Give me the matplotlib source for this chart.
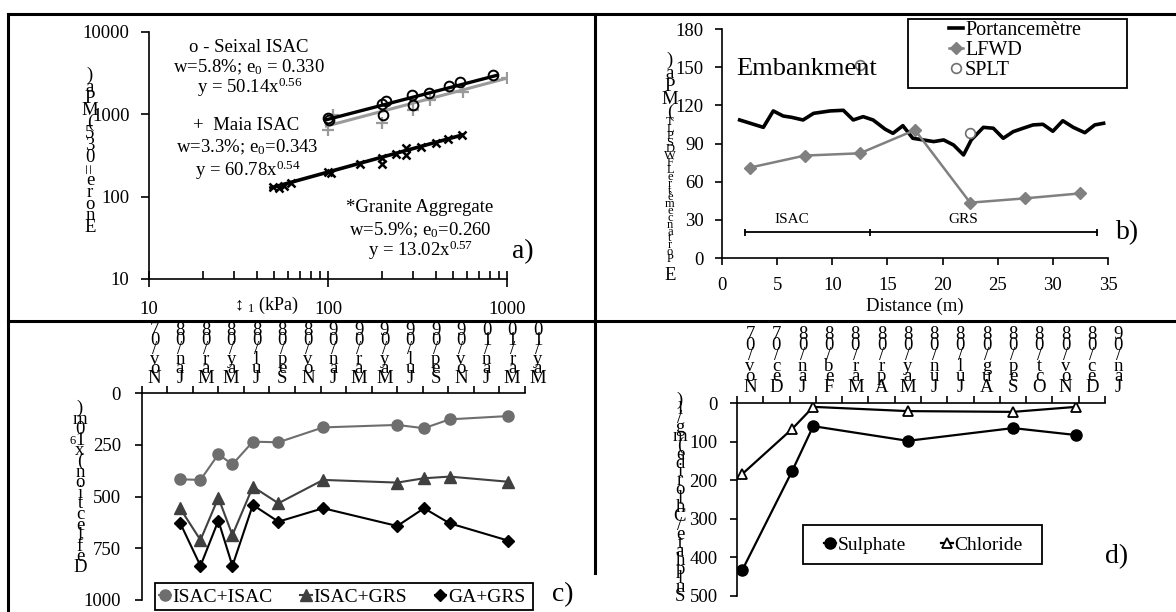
import numpy as np
import matplotlib
matplotlib.use("Agg")
import matplotlib.pyplot as plt
import matplotlib.transforms as mtransforms
from matplotlib.lines import Line2D
from matplotlib.patches import Rectangle
from matplotlib.ticker import LogLocator, NullLocator, NullFormatter

plt.rcParams['font.family'] = ['Liberation Serif', 'DejaVu Serif']
plt.rcParams['font.size'] = 13.5

# ---------------- data ----------------
# a) modulus vs stress, log-log
seixal_x = [100, 101, 200, 211, 202, 294, 297, 368, 476, 546, 839]
seixal_y = [897, 860, 1337, 1467, 984, 1721, 1300, 1836, 2213, 2500, 3013]
maia_x = [100, 107, 200, 300, 372, 566, 996]
maia_y = [646, 984, 794, 1130, 1496, 1888, 2750]
granite_x = [49, 53, 57, 62, 100, 104, 150, 200, 200, 240, 273, 273, 330, 400, 470, 560]
granite_y = [131, 129, 135, 146, 201, 195, 252, 293, 249, 333, 321, 387, 400, 452, 500, 562]
# trend line end points
seixal_fit_x = [98, 880]
seixal_fit_y = [860, 2980]
maia_fit_x = [98, 1000]
maia_fit_y = [720, 2750]
granite_fit_x = [48, 560]
granite_fit_y = [128, 560]

# b) embankment stiffness along the section
port_dist = [1.6, 3.75, 4.65, 5.55, 6.3, 7.35, 8.3, 9.8, 11.0, 11.9, 12.8, 13.7, 14.8, 15.5,
             16.4, 17.3, 18.25, 19.2, 20.1, 21.0, 21.9, 22.6, 23.7, 24.6, 25.5, 26.4, 27.3,
             28.2, 29.1, 30.0, 30.9, 31.85, 32.9, 33.8, 34.6]
port_val = [108.5, 102.7, 115.6, 111.6, 110.6, 108.5, 113.7, 115.6, 116.1, 108.5, 111.1, 108.5,
            101.2, 98, 104, 94.1, 92.8, 91.5, 92.8, 88.8, 81, 92.8, 102.7, 102, 94.1, 99.3, 102,
            104.6, 105.1, 99.6, 107.9, 102.7, 98.5, 104.6, 105.9]
lfwd_dist = [2.5, 7.5, 12.5, 17.5, 22.5, 27.5, 32.5]
lfwd_val = [71, 80.5, 82.3, 100.6, 43.5, 46.9, 50.8]
splt_dist = [12.5, 22.5]
splt_val = [152, 98]
section_edges = [2.1, 13.4, 34.0]
section_names = ['ISAC', 'GRS']
section_label_x = [6.3, 21.9]

# c) deflections, months counted from Nov 2007
c_tick_labels = ['Nov/07', 'Jan/08', 'Mar/08', 'May/08', 'Jul/08', 'Sep/08', 'Nov/08', 'Jan/09',
                 'Mar/09', 'May/09', 'Jul/09', 'Sep/09', 'Nov/09', 'Jan/10', 'Mar/10', 'May/10']
c_month = [3.0, 4.6, 6.0, 7.1, 8.7, 10.7, 14.2, 20.0, 22.1, 24.1, 28.7]
isac_isac = [416, 419, 295, 344, 234, 237, 165, 153, 169, 126, 110]
isac_grs = [556, 710, 505, 686, 452, 532, 419, 432, 411, 403, 428]
ga_grs = [626, 835, 616, 835, 540, 621, 556, 642, 556, 629, 713]

# d) sulphate / chloride, months counted from Nov 2007
d_tick_labels = ['Nov/07', 'Dec/07', 'Jan/08', 'Feb/08', 'Mar/08', 'Apr/08', 'May/08', 'Jun/08',
                 'Jul/08', 'Aug/08', 'Sep/08', 'Oct/08', 'Nov/08', 'Dec/08', 'Jan/09']
d_month = [0.2, 2.1, 2.9, 6.5, 10.5, 12.9]
sulphate = [433, 176, 60, 98, 65, 83]
chloride = [184, 67, 10, 21, 23, 10]

# ---------------- figure helpers ----------------
W, H = 1176, 612
fig = plt.figure(figsize=(W / 100, H / 100), dpi=100)


def fx(px):
    return px / W


def fy(py):
    return 1 - py / H


def box(l, t, r, b):
    return [fx(l), fy(b), (r - l) / W, (b - t) / H]


def ftext(px, py, s, **kw):
    return fig.text(fx(px), fy(py), s, **kw)


# rotated labels came out of the source as upright letters piled bottom-up
def stack_text(px, py, s, size, step):
    for i, ch in enumerate(s):
        if ch == '=':
            fig.text(fx(px), fy(py - i * step), ch, ha='center', va='bottom',
                     fontsize=size, rotation=90)
        else:
            fig.text(fx(px), fy(py - i * step), ch, ha='center', va='baseline', fontsize=size)


def stack_ticklabels(ax, positions, labels, base_pt, step_pt, size):
    base = mtransforms.blended_transform_factory(ax.transData, ax.transAxes)
    for x, lab in zip(positions, labels):
        for i, ch in enumerate(lab):
            t = mtransforms.offset_copy(base, fig=fig, x=0, y=base_pt + i * step_pt, units='points')
            ax.text(x, 1, ch, transform=t, ha='center', va='baseline', fontsize=size, clip_on=False)


def style_axis(ax, keep):
    for side, sp in ax.spines.items():
        sp.set_visible(side in keep)
        sp.set_linewidth(1.2)
    ax.tick_params(width=1.2, labelsize=13.5, color='black')


def frame(l, t, r, b):
    fig.add_artist(Rectangle((fx(l), fy(b)), (r - l) / W, (b - t) / H, transform=fig.transFigure,
                             fill=False, ec='black', lw=1.3))


# table borders
for xs, ys in [([8, W], [14, 14]), ([8, W], [321, 321]), ([8, 8], [14, H]),
               ([595, 595], [14, 573])]:
    fig.add_artist(Line2D([fx(v) for v in xs], [fy(v) for v in ys], color='black', lw=2.2,
                          transform=fig.transFigure))

# ---------------- a) ----------------
ax_a = fig.add_axes(box(149, 32, 507, 279))
style_axis(ax_a, ['left', 'bottom'])
ax_a.set_xscale('log')
ax_a.set_yscale('log')
ax_a.set_xlim(10, 1000)
ax_a.set_ylim(10, 10000)
ax_a.set_xticks([10, 100, 1000], ['10', '100', '1000'])
ax_a.set_yticks([10, 100, 1000, 10000], ['10', '100', '1000', '10000'])
ax_a.xaxis.set_minor_locator(LogLocator(base=10, subs=range(2, 10)))
ax_a.xaxis.set_minor_formatter(NullFormatter())
ax_a.yaxis.set_minor_locator(NullLocator())
ax_a.tick_params(axis='x', which='major', direction='inout', length=11, pad=10)
ax_a.tick_params(axis='x', which='minor', direction='in', length=6, width=1.2)
ax_a.tick_params(axis='y', which='major', direction='out', length=6, pad=8)

ax_a.plot(maia_x, maia_y, '+', color='#9a9a9a', ms=8, mew=1.6)
ax_a.plot(maia_fit_x, maia_fit_y, color='#9a9a9a', lw=2.2)
ax_a.plot(seixal_x, seixal_y, 'o', mfc='none', mec='black', ms=7, mew=1.4)
ax_a.plot(seixal_fit_x, seixal_fit_y, color='black', lw=2.4)
ax_a.plot(granite_x, granite_y, 'x', color='black', ms=6, mew=1.8)
ax_a.plot(granite_fit_x, granite_fit_y, color='black', lw=2.6)

ftext(249, 47, 'o - Seixal ISAC', ha='center', va='center')
ftext(249, 67, r'w=5.8%; $\mathregular{e_0}$ = 0.330', ha='center', va='center')
ftext(250, 87, r'y = 50.14$\mathregular{x^{0.56}}$', ha='center', va='center')
ftext(246, 126, '+  Maia ISAC', ha='center', va='center')
ftext(247, 147, r'w=3.3%; $\mathregular{e_0}$=0.343', ha='center', va='center')
ftext(248, 170, r'y = 60.78$\mathregular{x^{0.54}}$', ha='center', va='center')
ftext(420, 208, '*Granite Aggregate', ha='center', va='center')
ftext(420, 230, r'w=5.9%; $\mathregular{e_0}$=0.260', ha='center', va='center')
ftext(420, 250, r'y = 13.02$\mathregular{x^{0.57}}$', ha='center', va='center')
ftext(265, 305, r'$\mathregular{\updownarrow_1}$ (kPa)', ha='center', va='center', fontsize=13)
ftext(523, 252, 'a)', ha='center', va='center', fontsize=20)
stack_text(90, 232, 'Enore=035(MPa)', 13.5, 11.7)

# ---------------- b) ----------------
ax_b = fig.add_axes(box(722, 29, 1108, 258))
style_axis(ax_b, ['left', 'bottom'])
ax_b.set_xlim(0, 35)
ax_b.set_ylim(0, 180)
ax_b.set_xticks(np.arange(0, 36, 5))
ax_b.set_yticks(np.arange(0, 181, 30))
ax_b.tick_params(axis='x', direction='out', length=5, pad=9)
ax_b.tick_params(axis='y', direction='out', length=5, pad=8)

ax_b.plot(port_dist, port_val, color='black', lw=2.6, label='Portancemètre')
ax_b.plot(lfwd_dist, lfwd_val, color='#808080', lw=1.8, marker='D', ms=6, label='LFWD')
ax_b.plot(splt_dist, splt_val, ls='none', marker='o', mfc='white', mec='#707070', ms=7,
          mew=1.2, label='SPLT')

ax_b.plot([section_edges[0], section_edges[-1]], [20.2, 20.2], color='black', lw=1.3)
ax_b.vlines(section_edges, 17.5, 23, color='black', lw=1.3)
for name, xl in zip(section_names, section_label_x):
    ax_b.text(xl, 25.5, name, ha='center', va='bottom', fontsize=11)

ax_b.text(1.3, 148.6, 'Embankment', ha='left', va='center', fontsize=19)
ax_b.set_xlabel('Distance (m)', fontsize=13.5, labelpad=2)
ftext(1128, 233, 'b)', ha='center', va='center', fontsize=20)

ax_b.legend(loc='upper left', bbox_to_anchor=(fx(949), fy(21)),
            bbox_transform=fig.transFigure, frameon=False, fontsize=14.5,
            handlelength=0.7, handletextpad=0.1, labelspacing=0.05,
            borderpad=0, borderaxespad=0)
frame(908, 19, 1127, 88)

stack_text(670, 280, 'E', 13.5, 0)
stack_text(670, 262, 'PortancemètreLFWDSPLT', 9, 6.85)
stack_text(670, 117, '(MPa)', 13.5, 13)

# ---------------- c) ----------------
ax_c = fig.add_axes(box(141.7, 393.3, 525, 600))
style_axis(ax_c, ['left', 'top'])
ax_c.set_xlim(0, 30)
ax_c.set_ylim(1000, 0)
ax_c.xaxis.tick_top()
ax_c.set_xticks(np.arange(0, 31, 2))
ax_c.set_yticks(np.arange(0, 1001, 250))
ax_c.tick_params(axis='x', top=True, bottom=False, labeltop=False, labelbottom=False,
                 direction='out', length=5)
ax_c.tick_params(axis='y', direction='out', length=5, pad=10)

ax_c.plot(c_month, isac_isac, color='#6e6e6e', lw=1.5, marker='o', ms=8, label='ISAC+ISAC')
ax_c.plot(c_month, isac_grs, color='#404040', lw=1.5, marker='^', ms=8, label='ISAC+GRS')
ax_c.plot(c_month, ga_grs, color='black', lw=1.5, marker='D', ms=6, label='GA+GRS')

stack_ticklabels(ax_c, np.arange(1, 32, 2), c_tick_labels, 7.4, 6.9, 13.5)
ax_c.legend(loc='center left', bbox_to_anchor=(fx(159), fy(597)), bbox_transform=fig.transFigure,
            ncol=3, frameon=False, fontsize=14, handlelength=0.6, handletextpad=0.1,
            columnspacing=1.4, borderpad=0, borderaxespad=0)
frame(155, 583, 533, 610)
ftext(563, 595, 'c)', ha='center', va='center', fontsize=20)

stack_text(80, 572, 'Deflection(x10m)', 13.5, 10.6)
ftext(73, 444, '6', ha='center', va='baseline', fontsize=9)

# ---------------- d) ----------------
ax_d = fig.add_axes(box(737, 403, 1105, 596))
style_axis(ax_d, ['left', 'top'])
ax_d.set_xlim(0, 14)
ax_d.set_ylim(500, 0)
ax_d.xaxis.tick_top()
ax_d.set_xticks(np.arange(0, 15, 1))
ax_d.set_yticks(np.arange(0, 501, 100))
ax_d.tick_params(axis='x', top=True, bottom=False, labeltop=False, labelbottom=False,
                 direction='out', length=5)
ax_d.tick_params(axis='y', direction='out', length=5, pad=9)

ax_d.plot(d_month, sulphate, color='black', lw=1.6, marker='o', ms=8, label='Sulphate')
ax_d.plot(d_month, chloride, color='black', lw=1.6, marker='^', ms=7, mfc='white', mew=1.3,
          label='Chloride')

stack_ticklabels(ax_d, np.arange(0.5, 15, 1), d_tick_labels, 8.1, 7.6, 13.5)
ax_d.legend(loc='center left', bbox_to_anchor=(fx(824), fy(545)), bbox_transform=fig.transFigure,
            ncol=2, frameon=False, fontsize=14, handlelength=0.6, handletextpad=0.1,
            columnspacing=1.8, borderpad=0, borderaxespad=0)
frame(803, 525, 1042, 564)
ftext(1117, 557, 'd)', ha='center', va='center', fontsize=20)

stack_text(680, 601, 'Sulphate/Chloride(mg/l)', 13.5, 8.9)

fig.savefig('out.png', dpi=100, facecolor='white')
